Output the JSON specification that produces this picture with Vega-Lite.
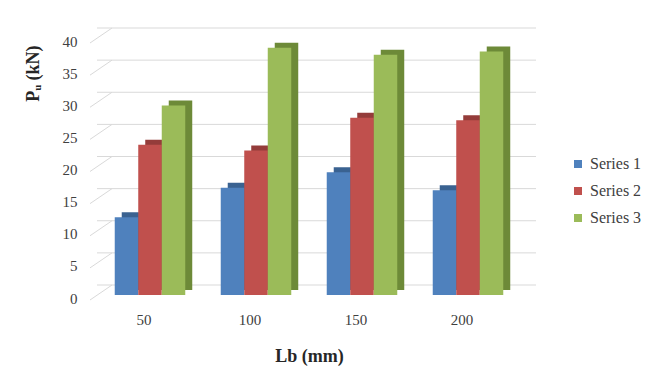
{
  "$schema": "https://vega.github.io/schema/vega-lite/v6.json",
  "width": 424,
  "height": 257,
  "autosize": {"type": "none"},
  "padding": {"left": 97, "top": 38, "right": 139, "bottom": 88},
  "background": "white",
  "config": {
    "view": {"stroke": null},
    "font": "Liberation Serif",
    "style": {"guide-label": {"font": "Liberation Serif"}, "guide-title": {"font": "Liberation Serif"}},
    "axis": {"labelFont": "Liberation Serif", "titleFont": "Liberation Serif"},
    "legend": {"labelFont": "Liberation Serif"}
  },
  "datasets": {
    "bars": [
      {"Lb": 50, "series": "Series 1", "value": 12.1},
      {"Lb": 50, "series": "Series 2", "value": 23.4},
      {"Lb": 50, "series": "Series 3", "value": 29.5},
      {"Lb": 100, "series": "Series 1", "value": 16.7},
      {"Lb": 100, "series": "Series 2", "value": 22.5},
      {"Lb": 100, "series": "Series 3", "value": 38.5},
      {"Lb": 150, "series": "Series 1", "value": 19.1},
      {"Lb": 150, "series": "Series 2", "value": 27.6},
      {"Lb": 150, "series": "Series 3", "value": 37.4},
      {"Lb": 200, "series": "Series 1", "value": 16.3},
      {"Lb": 200, "series": "Series 2", "value": 27.2},
      {"Lb": 200, "series": "Series 3", "value": 37.9}
    ],
    "grid": [
      {"v": 0}, {"v": 5}, {"v": 10}, {"v": 15}, {"v": 20},
      {"v": 25}, {"v": 30}, {"v": 35}, {"v": 40}
    ]
  },
  "layer": [
    {
      "data": {"name": "grid"},
      "mark": {"type": "rule", "color": "#d9d9d9", "strokeWidth": 1, "xOffset": -7, "x2Offset": 15, "yOffset": 5, "y2Offset": -10},
      "encoding": {
        "x": {
          "datum": 50, "type": "ordinal", "bandPosition": 0,
          "scale": {"paddingInner": 0, "paddingOuter": 0},
          "axis": {"title": "Lb (mm)", "labelAngle": 0, "domain": false, "ticks": false, "tickSize": 0, "labelPadding": 17, "labelOffset": -6, "labelFontSize": 15, "labelColor": "#404040", "titleFontSize": 18, "titleFontWeight": "bold", "titleColor": "#262626", "titlePadding": 20}
        },
        "x2": {"datum": 50, "bandPosition": 0},
        "y": {
          "field": "v", "type": "quantitative",
          "scale": {"domain": [0, 40], "nice": false, "zero": true},
          "axis": {"title": "Pᵤ (kN)", "values": [0, 5, 10, 15, 20, 25, 30, 35, 40], "tickCount": 12, "labelOverlap": false, "grid": false, "domain": false, "ticks": false, "tickSize": 0, "labelPadding": 20, "labelOffset": 3, "labelFontSize": 15, "labelColor": "#404040", "titleFontSize": 18, "titleFontWeight": "bold", "titleColor": "#262626", "titleAnchor": "end", "titleY": 7, "titlePadding": 20}
        },
        "y2": {"field": "v"}
      }
    },
    {
      "data": {"name": "grid"},
      "mark": {"type": "rule", "color": "#d9d9d9", "strokeWidth": 1, "xOffset": 15, "x2Offset": 15, "yOffset": -10},
      "encoding": {
        "y": {"field": "v", "type": "quantitative"}
      }
    },
    {
      "data": {"name": "bars"},
      "mark": {"type": "bar", "yOffset": -5, "y2Offset": -5},
      "encoding": {
        "x": {"field": "Lb", "type": "ordinal"},
        "xOffset": {"field": "series", "type": "nominal", "scale": {"paddingInner": 0, "paddingOuter": 0.755, "align": 0.697}},
        "y": {"field": "value", "type": "quantitative"},
        "color": {"field": "series", "type": "nominal", "scale": {"range": ["#3a6291", "#943c3a", "#6d8a38"]}, "legend": null}
      }
    },
    {
      "data": {"name": "bars"},
      "mark": {"type": "bar"},
      "encoding": {
        "x": {"field": "Lb", "type": "ordinal"},
        "xOffset": {"field": "series", "type": "nominal", "scale": {"paddingInner": 0, "paddingOuter": 0.755}},
        "y": {"field": "value", "type": "quantitative"},
        "color": {
          "field": "series", "type": "nominal",
          "scale": {"range": ["#4f81bd", "#c0504d", "#9bbb59"]},
          "legend": {"orient": "none", "legendX": 473, "legendY": 118, "title": null, "symbolType": "square", "symbolSize": 64, "symbolStrokeWidth": 0, "symbolOpacity": 1, "labelFont": "Liberation Serif", "labelFontSize": 16, "labelColor": "#404040", "labelOffset": 4, "rowPadding": 11}
        }
      }
    }
  ],
  "resolve": {"scale": {"color": "independent", "xOffset": "independent"}}
}
